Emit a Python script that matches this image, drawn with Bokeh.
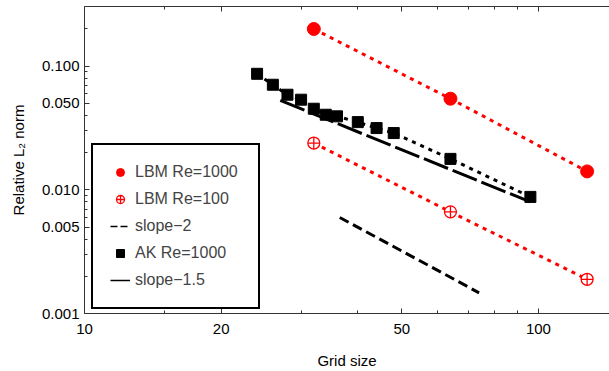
from bokeh.plotting import figure
from bokeh.models import (LogAxis, FixedTicker, Range1d, Legend, LegendItem,
                          CustomLabelingPolicy)
from bokeh.embed import file_html
from bokeh.resources import INLINE

# ---- data ----
lbm_grid = [32, 64, 128]
lbm_re1000 = [0.200, 0.0546, 0.0141]
lbm_re100 = [0.0239, 0.00664, 0.00189]

ak_grid = [24, 26, 28, 30, 32, 34, 36, 40, 44, 48, 64, 96]
ak_re1000 = [0.0868, 0.0708, 0.0588, 0.0536, 0.0453, 0.0405, 0.0393,
             0.0353, 0.0316, 0.0288, 0.0178, 0.00877]

slope15_grid = [27, 96]
slope15_vals = [0.0529, 0.00798]
slope2_grid = [36.5, 74]
slope2_vals = [0.00598, 0.00147]

x_major = [10, 20, 50, 100]
x_minor = [15, 30, 40, 60, 70, 80, 90]
y_major = [0.001, 0.005, 0.01, 0.05, 0.1]
y_minor = [0.002, 0.003, 0.004, 0.006, 0.007, 0.008, 0.009,
           0.02, 0.03, 0.04, 0.06, 0.07, 0.08, 0.09, 0.2]
y_labels = {0.001: "0.001", 0.005: "0.005", 0.01: "0.010", 0.05: "0.050", 0.1: "0.100"}
x_labels = {10: "10", 20: "20", 50: "50", 100: "100"}

FONT = "Liberation Sans"
AXC = "#333333"
NAN = float("nan")

p = figure(width=609, height=371, x_axis_type="log", y_axis_type="log",
           x_range=Range1d(10, 143.4), y_range=Range1d(0.001, 0.304),
           output_backend="svg", toolbar_location=None,
           min_border_left=84, min_border_right=0, min_border_top=6,
           min_border_bottom=58)
p.outline_line_color = None
p.grid.visible = False
p.background_fill_color = "white"


def style_axis(ax):
    ax.axis_line_color = AXC
    ax.major_tick_line_color = AXC
    ax.minor_tick_line_color = AXC
    ax.major_tick_in = 5
    ax.major_tick_out = 0
    ax.minor_tick_in = 3
    ax.minor_tick_out = 0
    ax.major_label_text_font = FONT
    ax.major_label_text_font_size = "15px"
    ax.major_label_text_color = "black"
    ax.axis_label_text_font = FONT
    ax.axis_label_text_font_size = "15px"
    ax.axis_label_text_font_style = "normal"
    ax.axis_label_text_color = "black"


xax = p.xaxis[0]
xax.ticker = FixedTicker(ticks=x_major, minor_ticks=x_minor)
xax.major_label_overrides = x_labels
xax.axis_label = "Grid size"
style_axis(xax)
xax.major_label_standoff = 10
xax.axis_label_standoff = 15

yax = p.yaxis[0]
yax.ticker = FixedTicker(ticks=y_major, minor_ticks=y_minor)
yax.major_label_overrides = y_labels
yax.axis_label = "Relative L\u2082 norm"
style_axis(yax)
yax.major_label_standoff = 5
yax.axis_label_standoff = 12

top = LogAxis(ticker=FixedTicker(ticks=x_major, minor_ticks=x_minor))
style_axis(top)
top.major_label_text_font_size = "0px"
top.major_label_standoff = 0
top.major_label_policy = CustomLabelingPolicy(
    code="for (const i of indices) { indices.unset(i) } return indices")
top.axis_label = None
p.add_layout(top, "above")

# ---- lines ----
p.line(lbm_grid, lbm_re1000, line_color="red", line_width=3, line_dash="4 5")
p.line(lbm_grid, lbm_re100, line_color="red", line_width=3, line_dash="4 5")
p.line(ak_grid, ak_re1000, line_color="black", line_width=3, line_dash="4 5")
p.line(slope15_grid, slope15_vals, line_color="black", line_width=3, line_dash="26 5")
p.line(slope2_grid, slope2_vals, line_color="black", line_width=3, line_dash="10 5")

# legend-only line samples (thinner, as in the reference legend); NaN draws nothing
leg_s15 = p.line([NAN], [NAN], line_color="black", line_width=1.5)
leg_s2 = p.line([NAN], [NAN], line_color="black", line_width=1.5, line_dash="7 3")

# ---- markers ----
r_l1000 = p.scatter(lbm_grid, lbm_re1000, marker="circle", size=13,
                    fill_color="red", line_color="red")
r_l100 = p.scatter(lbm_grid, lbm_re100, marker="circle_cross", size=12,
                   fill_color="white", line_color="red", line_width=1.3)
r_ak = p.scatter(ak_grid, ak_re1000, marker="square", size=11,
                 fill_color="black", line_color="black")

legend = Legend(items=[
    LegendItem(label="LBM Re=1000", renderers=[r_l1000]),
    LegendItem(label="LBM Re=100", renderers=[r_l100]),
    LegendItem(label="slope\u22122", renderers=[leg_s2]),
    LegendItem(label="AK Re=1000", renderers=[r_ak]),
    LegendItem(label="slope\u22121.5", renderers=[leg_s15]),
], location=(7, 4))
legend.margin = 0
legend.padding = 17
legend.spacing = 7
legend.label_height = 20
legend.glyph_height = 20
legend.glyph_width = 20
legend.label_standoff = 5
legend.label_width = 106
legend.label_text_font = FONT
legend.label_text_font_size = "16px"
legend.border_line_color = "black"
legend.border_line_alpha = 1
legend.border_line_width = 2
legend.background_fill_color = "white"
legend.background_fill_alpha = 1
p.add_layout(legend)

open("out.html", "w").write(file_html(p, INLINE))
